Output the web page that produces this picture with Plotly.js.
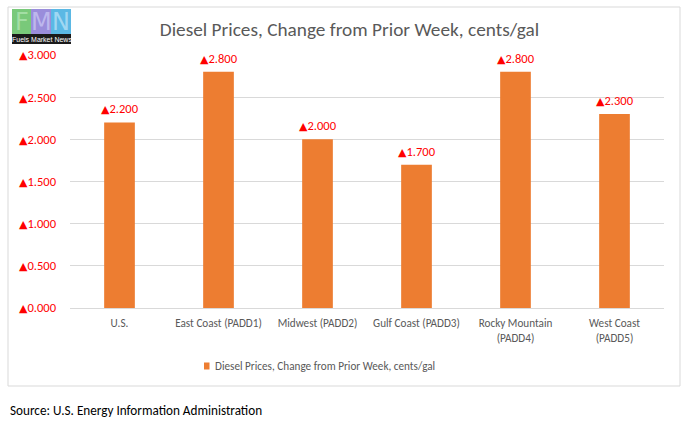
<!DOCTYPE html>
<html>
<head>
<meta charset="utf-8">
<script src="https://cdn.plot.ly/plotly-3.0.1.min.js"></script>
<style>html,body{margin:0;padding:0;background:#fff;}#chart{width:688px;height:427px;}</style>
</head>
<body>
<div id="chart"></div>
<script>
var categories = ["U.S.", "East Coast (PADD1)", "Midwest (PADD2)", "Gulf Coast (PADD3)", "Rocky Mountain<br>(PADD4)", "West Coast<br>(PADD5)"];
var values = [2.2, 2.8, 2.0, 1.7, 2.8, 2.3];
var tickValues = [0, 0.5, 1, 1.5, 2, 2.5, 3];
var tickLabels = ["▲0.000", "▲0.500", "▲1.000", "▲1.500", "▲2.000", "▲2.500", "▲3.000"];
var seriesName = "Diesel Prices, Change from Prior Week, cents/gal";
var chartTitle = "Diesel Prices, Change from Prior Week, cents/gal";
var sourceText = "Source: U.S. Energy Information Administration";

var FONT = "Carlito, Lato, 'Open Sans', sans-serif";
var TRI = '<span style="font-family:DejaVu Sans;font-size:11px">▲</span>';
function styleTri(s) { return s.replace("▲", TRI); }

var L = 70, R = 24, T = 55, B = 119, W = 688, H = 427;
var pw = W - L - R, ph = H - T - B;
function px(x) { return (x - L) / pw; }
function py(y) { return (H - B - y) / ph; }

var trace = {
  type: "bar",
  x: categories,
  y: values,
  name: seriesName,
  marker: {color: "#ED7D31"},
  cliponaxis: false,
  hoverinfo: "none",
  showlegend: false
};

var shapes = [
  {type: "rect", xref: "paper", yref: "paper", x0: px(8), x1: px(680), y0: py(386), y1: py(7),
   line: {color: "#D9D9D9", width: 1}, fillcolor: "rgba(0,0,0,0)", layer: "below"},
  {type: "rect", xref: "paper", yref: "paper", x0: px(12), x1: px(31), y0: py(34), y1: py(9), line: {width: 0}, fillcolor: "#79C97A"},
  {type: "rect", xref: "paper", yref: "paper", x0: px(31), x1: px(51), y0: py(34), y1: py(9), line: {width: 0}, fillcolor: "#9A8DDB"},
  {type: "rect", xref: "paper", yref: "paper", x0: px(51), x1: px(71), y0: py(34), y1: py(9), line: {width: 0}, fillcolor: "#5BB8E4"},
  {type: "rect", xref: "paper", yref: "paper", x0: px(12), x1: px(71), y0: py(44), y1: py(34), line: {width: 0}, fillcolor: "#1A1A1A"},
  // legend swatch
  {type: "rect", xref: "paper", yref: "paper", x0: px(204), x1: px(209.5), y0: py(369.5), y1: py(362.5), line: {width: 0}, fillcolor: "#ED7D31"}
];

var annotations = [
  {xref: "paper", yref: "paper", x: px(21.5), y: py(22), text: "F", showarrow: false, font: {family: "DejaVu Sans", size: 24, color: "rgba(170,225,170,0.9)"}, xanchor: "center", yanchor: "middle"},
  {xref: "paper", yref: "paper", x: px(41), y: py(22), text: "M", showarrow: false, font: {family: "DejaVu Sans", size: 24, color: "rgba(195,190,240,0.9)"}, xanchor: "center", yanchor: "middle"},
  {xref: "paper", yref: "paper", x: px(61), y: py(22), text: "N", showarrow: false, font: {family: "DejaVu Sans", size: 24, color: "rgba(170,220,245,0.9)"}, xanchor: "center", yanchor: "middle"},
  {xref: "paper", yref: "paper", x: px(41.5), y: py(39.5), text: "Fuels Market News", showarrow: false, font: {family: "Liberation Sans Narrow, Liberation Sans", size: 7, color: "#FFFFFF"}, xanchor: "center", yanchor: "middle"},
  {xref: "paper", yref: "paper", x: px(212.5), y: py(366), text: seriesName, showarrow: false, font: {family: FONT, size: 11.2, color: "#595959"}, xanchor: "left", yanchor: "middle"},
  {xref: "paper", yref: "paper", x: px(8), y: py(410), text: sourceText, showarrow: false, font: {family: FONT, size: 13.2, color: "#000000"}, xanchor: "left", yanchor: "middle"}
];

// data labels above bars, positioned through the axes
categories.forEach(function (c, i) {
  annotations.push({
    xref: "x", yref: "y", x: c, y: values[i], text: styleTri("▲" + values[i].toFixed(3)),
    showarrow: false, xanchor: "center", yanchor: "bottom", yshift: 4,
    font: {family: FONT, size: 12.5, color: "#FF0000"}
  });
});

var layout = {
  width: W, height: H,
  margin: {l: L, r: R, t: T, b: B, pad: 0},
  paper_bgcolor: "#FFFFFF", plot_bgcolor: "#FFFFFF",
  title: {text: chartTitle, font: {family: FONT, size: 19.3, color: "#595959"}, x: 349.5 / W, xref: "container", xanchor: "center", y: 1 - 29 / H, yanchor: "middle"},
  bargap: 0.69,
  showlegend: false,
  xaxis: {
    type: "category", showgrid: false, showline: true, linecolor: "#D9D9D9", linewidth: 1,
    ticks: "", ticklabelstandoff: 5, tickfont: {family: FONT, size: 11.2, color: "#595959"}, fixedrange: true
  },
  yaxis: {
    range: [0, 3], tickmode: "array", tickvals: tickValues, ticktext: tickLabels.map(styleTri),
    showgrid: true, gridcolor: "#D9D9D9", gridwidth: 1, zeroline: false, showline: false,
    ticks: "", ticklabelstandoff: 13,
    tickfont: {family: FONT, size: 12.5, color: "#FF0000"}, fixedrange: true
  },
  shapes: shapes,
  annotations: annotations
};

Plotly.newPlot("chart", [trace], layout, {displayModeBar: false, staticPlot: true});
</script>
</body>
</html>
